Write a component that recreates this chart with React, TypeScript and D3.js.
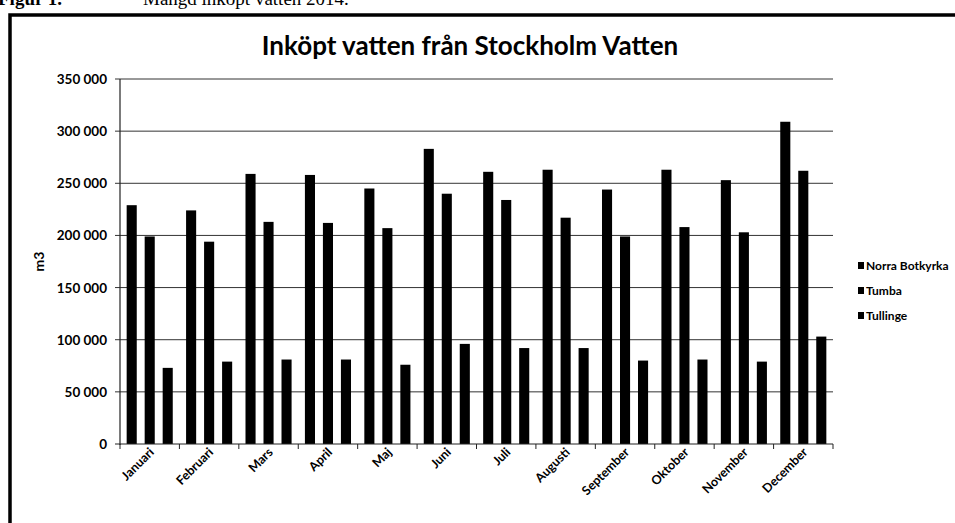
import * as d3 from 'd3'
import React, { useEffect, useRef } from 'react'

// values (m3)
const months = ['Januari', 'Februari', 'Mars', 'April', 'Maj', 'Juni', 'Juli', 'Augusti', 'September', 'Oktober', 'November', 'December']
const seriesNames = ['Norra Botkyrka', 'Tumba', 'Tullinge']
const norraBotkyrka = [229000, 224000, 259000, 258000, 245000, 283000, 261000, 263000, 244000, 263000, 253000, 309000]
const tumba = [199000, 194000, 213000, 212000, 207000, 240000, 234000, 217000, 199000, 208000, 203000, 262000]
const tullinge = [73000, 79000, 81000, 81000, 76000, 96000, 92000, 92000, 80000, 81000, 79000, 103000]
const yTicks = [0, 50000, 100000, 150000, 200000, 250000, 300000, 350000]

const W = 955
const H = 523
const font = 'Lato, "Open Sans", sans-serif'

const App = (): JSX.Element => {
    const ref = useRef<SVGSVGElement>(null)

    useEffect(() => {
        const svg = d3.select(ref.current)
        svg.selectAll('*').remove()

        const values = [norraBotkyrka, tumba, tullinge]
        const left = 120
        const right = 833
        const top = 79
        const bottom = 444

        const x0 = d3.scaleBand().domain(months).range([left, right])
        const x1 = d3.scaleBand().domain(seriesNames).range([0, x0.bandwidth()]).paddingInner(0.44).paddingOuter(0.37)
        const y = d3.scaleLinear().domain([0, 350000]).range([bottom, top])
        const fmt = (v: number) => d3.format(',')(v).replace(/,/g, ' ')

        svg.append('rect').attr('width', W).attr('height', H).attr('fill', 'white')

        // caption above the chart frame (cut off at the top in the scan)
        const cap = svg.append('text').attr('x', -2).attr('y', 5).attr('font-family', '"Liberation Serif", serif').attr('font-size', 19)
        cap.append('tspan').attr('font-weight', 'bold').text('Figur 1.')
        cap.append('tspan').attr('x', 143).text('Mängd inköpt vatten 2014.')

        // chart frame
        svg.append('path')
            .attr('d', `M10,${H + 5} L10,15 L${W + 5},15`)
            .attr('fill', 'none')
            .attr('stroke', '#000')
            .attr('stroke-width', 3.5)

        svg.append('text')
            .attr('x', 470)
            .attr('y', 55)
            .attr('text-anchor', 'middle')
            .attr('font-family', font)
            .attr('font-weight', 'bold')
            .attr('font-size', 26)
            .text('Inköpt vatten från Stockholm Vatten')

        // grid + y ticks
        const g = svg.append('g')
        g.selectAll('line.grid')
            .data(yTicks.filter((t) => t > 0))
            .enter()
            .append('line')
            .attr('x1', left - 5)
            .attr('x2', right)
            .attr('y1', (d) => y(d))
            .attr('y2', (d) => y(d))
            .attr('stroke', '#333')
            .attr('stroke-width', 1)

        g.selectAll('text.ytick')
            .data(yTicks)
            .enter()
            .append('text')
            .attr('x', 107)
            .attr('y', (d) => y(d) + 5)
            .attr('text-anchor', 'end')
            .attr('font-family', font)
            .attr('font-weight', 'bold')
            .attr('font-size', 13.5)
            .text((d) => fmt(d))

        svg.append('text')
            .attr('transform', `translate(44,${(top + bottom) / 2}) rotate(-90)`)
            .attr('text-anchor', 'middle')
            .attr('font-family', font)
            .attr('font-weight', 'bold')
            .attr('font-size', 14)
            .text('m3')

        // bars
        const groups = svg.selectAll('g.month')
            .data(months)
            .enter()
            .append('g')
            .attr('transform', (d) => `translate(${x0(d)},0)`)
        groups.selectAll('rect')
            .data((_m, i) => seriesNames.map((s, k) => ({ s, v: values[k][i] })))
            .enter()
            .append('rect')
            .attr('x', (d) => x1(d.s) as number)
            .attr('width', x1.bandwidth())
            .attr('y', (d) => y(d.v))
            .attr('height', (d) => bottom - y(d.v))
            .attr('fill', '#000')

        // axes lines
        svg.append('line').attr('x1', left).attr('x2', left).attr('y1', top).attr('y2', bottom + 1).attr('stroke', '#222').attr('stroke-width', 1.2)
        svg.append('line').attr('x1', left - 5).attr('x2', right).attr('y1', bottom).attr('y2', bottom).attr('stroke', '#222').attr('stroke-width', 1.2)
        svg.selectAll('line.xtick')
            .data(d3.range(months.length + 1))
            .enter()
            .append('line')
            .attr('x1', (i) => left + i * x0.step())
            .attr('x2', (i) => left + i * x0.step())
            .attr('y1', bottom)
            .attr('y2', bottom + 5)
            .attr('stroke', '#222')

        svg.selectAll('text.xlabel')
            .data(months)
            .enter()
            .append('text')
            .attr('transform', (d) => `translate(${(x0(d) as number) + x0.bandwidth() / 2 + 5},${bottom + 9}) rotate(-45)`)
            .attr('text-anchor', 'end')
            .attr('font-family', font)
            .attr('font-weight', 'bold')
            .attr('font-size', 12.5)
            .text((d) => d)

        // legend
        const legend = svg.selectAll('g.legend')
            .data(seriesNames)
            .enter()
            .append('g')
            .attr('transform', (_d, i) => `translate(858,${267 + i * 25})`)
        legend.append('rect').attr('x', 0).attr('y', -5).attr('width', 6).attr('height', 7).attr('fill', '#000')
        legend.append('text')
            .attr('x', 8)
            .attr('y', 3)
            .attr('font-family', font)
            .attr('font-weight', 'bold')
            .attr('font-size', 12)
            .text((d) => d)
    }, [])

    return (
        <svg ref={ref} width={W} height={H} style={{ position: 'absolute', left: 0, top: 0 }} />
    )
}

export default App
